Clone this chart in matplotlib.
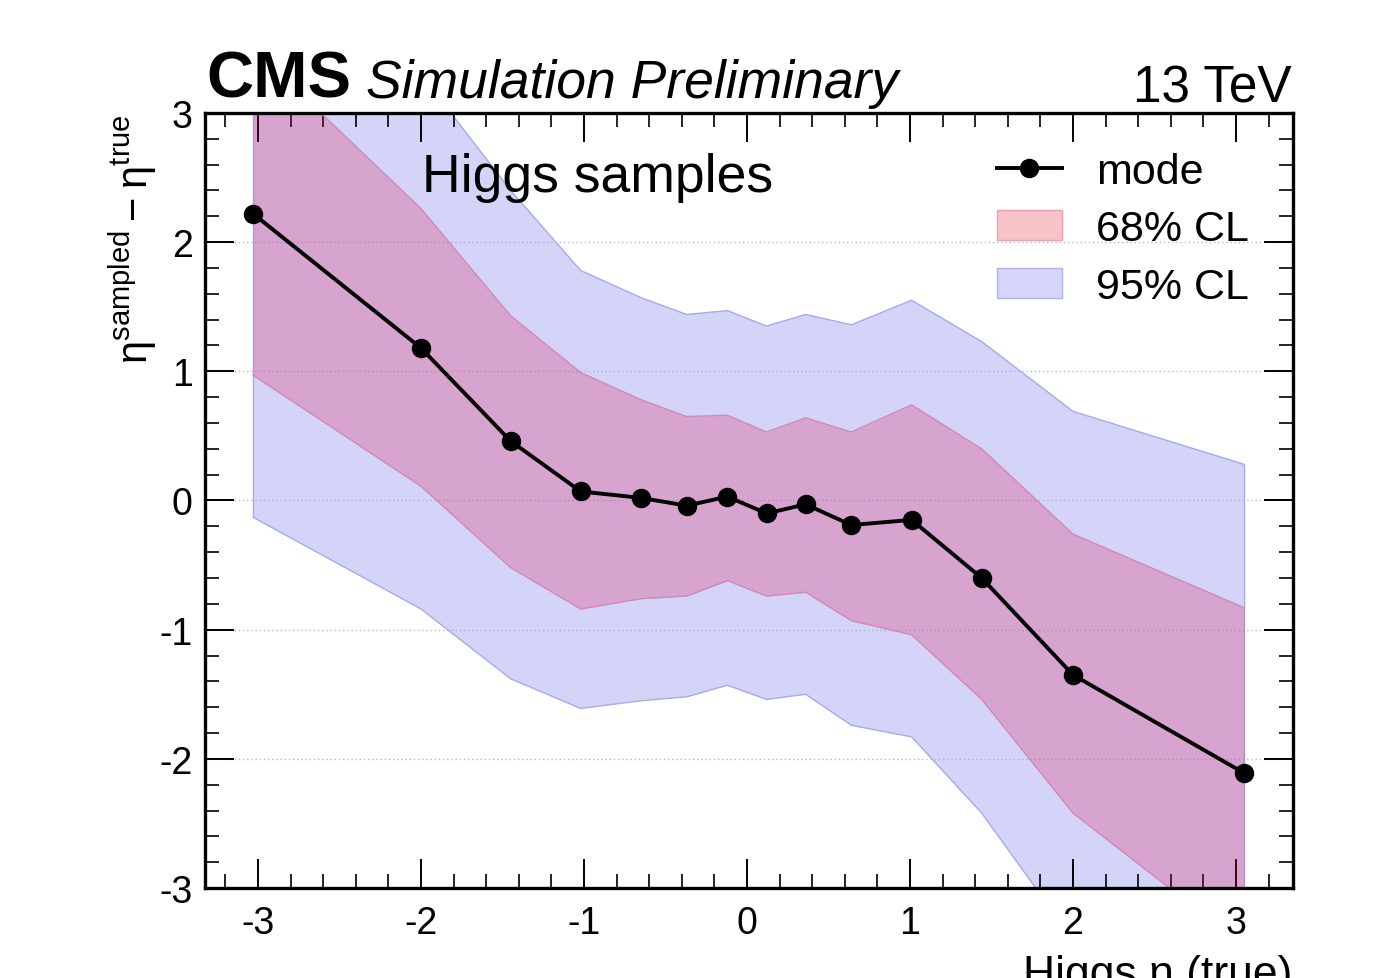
import matplotlib
matplotlib.use("Agg")
import matplotlib.pyplot as plt
from matplotlib.lines import Line2D
from matplotlib.patches import Patch
from matplotlib.ticker import MultipleLocator

plt.rcParams['font.family'] = ['Liberation Sans', 'DejaVu Sans']
plt.rcParams['axes.unicode_minus'] = False

# Values
eta_true = [-3.03, -2.0, -1.45, -1.02, -0.65, -0.37, -0.12, 0.12, 0.36, 0.64, 1.01, 1.44, 2.0, 3.05]
mode = [2.22, 1.18, 0.46, 0.07, 0.02, -0.04, 0.03, -0.10, -0.03, -0.19, -0.15, -0.60, -1.35, -2.11]
cl68_lo = [0.97, 0.11, -0.52, -0.84, -0.76, -0.74, -0.62, -0.74, -0.71, -0.93, -1.04, -1.54, -2.42, -3.45]
cl68_hi = [3.50, 2.26, 1.43, 0.99, 0.78, 0.65, 0.66, 0.53, 0.64, 0.53, 0.74, 0.40, -0.26, -0.83]
cl95_lo = [-0.13, -0.84, -1.38, -1.61, -1.55, -1.52, -1.43, -1.54, -1.50, -1.74, -1.83, -2.42, -3.40, -4.50]
cl95_hi = [4.60, 3.30, 2.40, 1.78, 1.57, 1.44, 1.47, 1.35, 1.44, 1.36, 1.55, 1.23, 0.69, 0.28]
y_grid = [-2, -1, 0, 1, 2]

BLUE = '#aaaaf2'
RED = '#e0185a'

fig = plt.figure(figsize=(13.76, 9.79), dpi=100)
ax = fig.add_axes([0.149, 0.0919, 0.7907, 0.7917])

# dotted horizontal grid
for g in y_grid:
    ax.axhline(g, color='#b8b8b8', linestyle=(0, (1, 2)), linewidth=1.0, zorder=0)

# bands
ax.fill_between(eta_true, cl95_lo, cl95_hi, color=BLUE, alpha=0.5, linewidth=0, zorder=1)
ax.plot(eta_true, cl95_lo, color='#a8a8ee', linewidth=1.0, zorder=1)
ax.plot(eta_true, cl95_hi, color='#a8a8ee', linewidth=1.0, zorder=1)
ax.fill_between(eta_true, cl68_lo, cl68_hi, color=RED, alpha=0.26, linewidth=0, zorder=2)
ax.plot(eta_true, cl68_lo, color='#d08ab8', linewidth=1.0, zorder=2)
ax.plot(eta_true, cl68_hi, color='#d08ab8', linewidth=1.0, zorder=2)
ax.vlines([eta_true[0], eta_true[-1]], [cl95_lo[0], cl95_lo[-1]], [cl95_hi[0], cl95_hi[-1]],
          color='#a8a8ee', linewidth=1.0, zorder=1)

# mode line
ax.plot(eta_true, mode, color='black', linewidth=2.8, marker='o', markersize=13, zorder=4)

ax.set_xlim(-3.325, 3.35)
ax.set_ylim(-3, 3)
ax.xaxis.set_major_locator(MultipleLocator(1))
ax.xaxis.set_minor_locator(MultipleLocator(0.2))
ax.yaxis.set_major_locator(MultipleLocator(1))
ax.yaxis.set_minor_locator(MultipleLocator(0.2))
ax.tick_params(which='both', direction='in', top=True, right=True, labelsize=27)
ax.tick_params(which='major', length=21, width=1.4)
ax.tick_params(which='minor', length=10, width=1.2)
ax.tick_params(axis='x', pad=12)
ax.tick_params(axis='y', pad=9)
for sp in ax.spines.values():
    sp.set_linewidth(2.4)
    sp.set_zorder(10)

ax.set_ylabel(r'$\mathregular{\eta^{sampled} - \eta^{true}}$', fontsize=30, loc='top', labelpad=0)

# x label, partly cut at the bottom like the reference
fig.text(0.9390, -0.008, u'Higgs \u03b7 (true)', fontsize=32, ha='right', va='baseline')

# header texts
fig.text(0.150, 0.900, 'CMS', fontsize=47, fontweight='bold', va='baseline')
fig.text(0.266, 0.900, 'Simulation Preliminary', fontsize=38.5, style='italic', va='baseline')
fig.text(0.9385, 0.895, '13 TeV', fontsize=37, ha='right', va='baseline')

ax.text(0.1994, 0.899, 'Higgs samples', fontsize=38.5, transform=ax.transAxes, va='baseline')

handles = [
    Line2D([], [], color='black', linewidth=2.8, marker='o', markersize=13),
    Patch(facecolor='#f8c4ca', edgecolor='#e8a0b0', linewidth=1.0),
    Patch(facecolor='#d5d5f9', edgecolor='#b0b0ee', linewidth=1.0),
]
ax.legend(handles, ['mode', '68% CL', '95% CL'], loc='upper left',
          bbox_to_anchor=(0.728, 0.950), frameon=False, fontsize=31,
          handlelength=1.5, handleheight=0.7, handletextpad=0.8,
          labelspacing=0.41, borderpad=0, borderaxespad=0)

fig.savefig('out.png', dpi=100)
